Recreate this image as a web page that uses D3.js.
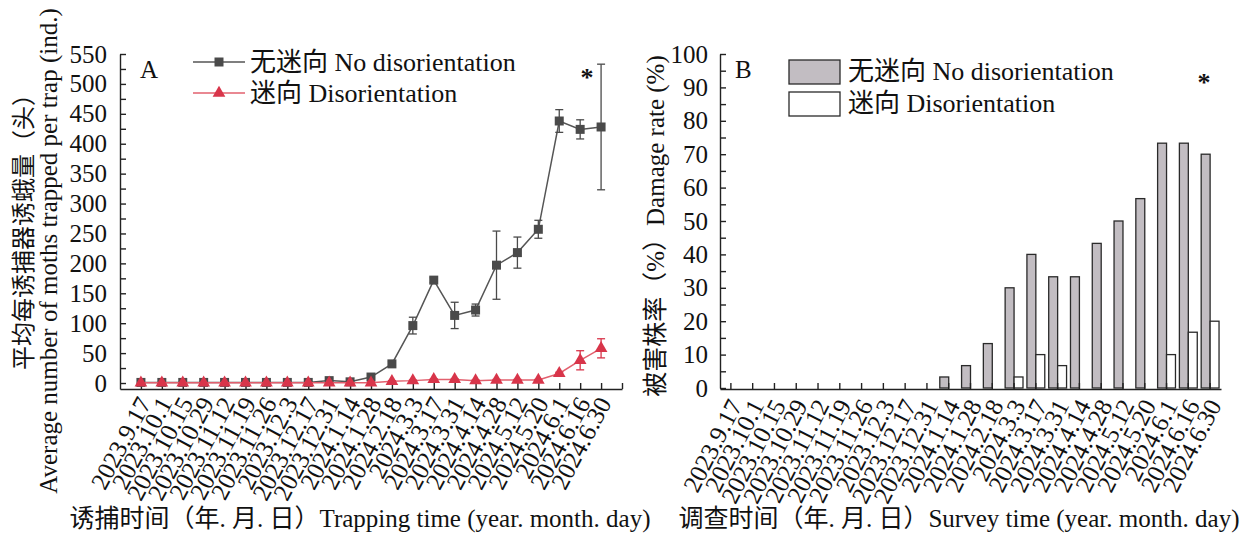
<!DOCTYPE html>
<html lang="zh">
<head>
  <meta charset="UTF-8">
  <title>Trap catch and damage rate</title>
  <script src="https://d3js.org/d3.v7.min.js"></script>
  <style>
    body { margin: 0; background: #fff; }
    svg text { font-family: "Liberation Serif", "Times New Roman", "Noto Sans CJK SC", serif; fill: #111; }
    .axis path, .axis line { stroke: #222; stroke-width: 1.4px; }
    .axis text { font-size: 25px; }
  </style>
</head>
<body>
  <svg id="chart" width="1241" height="538"></svg>
  <script>
    // survey / trapping dates
    const dates = [
      "2023.9.17", "2023.10.1", "2023.10.15", "2023.10.29", "2023.11.12", "2023.11.19",
      "2023.11.26", "2023.12.3", "2023.12.17", "2023.12.31", "2024.1.14", "2024.1.28",
      "2024.2.18", "2024.3.3", "2024.3.17", "2024.3.31", "2024.4.14", "2024.4.28",
      "2024.5.12", "2024.5.20", "2024.6.1", "2024.6.16", "2024.6.30"
    ];

    // A: moths per trap
    const noDisMean = [1, 1, 1, 1, 1, 1, 1, 1, 1, 4, 2, 10, 32, 96, 172, 113, 122, 197, 218, 257, 438, 424, 428];
    const noDisErr  = [0, 0, 0, 0, 0, 0, 0, 0, 0, 4, 1, 3, 4, 14, 4, 22, 10, 57, 26, 15, 19, 16, 105];
    const disMean   = [0.5, 0.5, 0.5, 0.5, 0.5, 0.5, 0.5, 0.5, 0.5, 0.5, 0.5, 0.5, 3, 4, 6, 6, 4, 5, 5, 5, 16, 38, 58];
    const disErr    = [0, 0, 0, 0, 0, 0, 0, 0, 0, 0, 0, 2, 1, 1, 1, 1, 1, 1, 1, 1, 2, 16, 16];

    // B: damage rate (%)
    const damageNoDis = [0, 0, 0, 0, 0, 0, 0, 0, 0, 0, 3.3, 6.7, 13.3, 30, 40, 33.3, 33.3, 43.3, 50, 56.7, 73.3, 73.3, 70];
    const damageDis   = [0, 0, 0, 0, 0, 0, 0, 0, 0, 0, 0, 0, 0, 3.3, 10, 6.7, 0, 0, 0, 0, 10, 16.7, 20];

    const grayLine = "#555", grayMark = "#4a4a4a";
    const redLine = "#e2606e", redMark = "#d8354a";

    const svg = d3.select("#chart");

    // ---------- panel A ----------
    const xA = d3.scaleLinear().domain([0, 24]).range([120, 622]);
    const yA = d3.scaleLinear().domain([-10, 550]).range([389, 54]);

    svg.append("g")
      .attr("class", "axis")
      .attr("transform", "translate(0,389)")
      .call(d3.axisBottom(xA).tickValues(d3.range(1, 25)).tickSizeInner(-6).tickSizeOuter(0).tickFormat(""));

    svg.append("g")
      .attr("class", "axis")
      .attr("transform", "translate(120,0)")
      .call(d3.axisLeft(yA).tickValues(d3.range(0, 551, 25)).tickSizeInner(-6).tickSizeOuter(0).tickPadding(13)
        .tickFormat(d => d % 50 === 0 ? d : ""));

    const seriesA = [
      { mean: noDisMean, err: noDisErr, line: grayLine, mark: grayMark, sym: d3.symbolSquare, size: 81 },
      { mean: disMean, err: disErr, line: redLine, mark: redMark, sym: d3.symbolTriangle, size: 70 }
    ];

    const lineA = d3.line().x((d, i) => xA(i + 1)).y(d => yA(d));

    seriesA.forEach(s => {
      svg.append("path")
        .attr("d", lineA(s.mean))
        .attr("fill", "none")
        .attr("stroke", s.line)
        .attr("stroke-width", 1.5);

      const eb = svg.append("g").attr("stroke", s.mark).attr("stroke-width", 1.3);
      s.mean.forEach((m, i) => {
        if (!s.err[i]) return;
        const x = xA(i + 1);
        eb.append("line").attr("x1", x).attr("x2", x).attr("y1", yA(m - s.err[i])).attr("y2", yA(m + s.err[i]));
        [m - s.err[i], m + s.err[i]].forEach(v => {
          eb.append("line").attr("x1", x - 4).attr("x2", x + 4).attr("y1", yA(v)).attr("y2", yA(v));
        });
      });

      svg.append("g").selectAll("path")
        .data(s.mean)
        .join("path")
        .attr("transform", (d, i) => `translate(${xA(i + 1)},${yA(d)})`)
        .attr("d", d3.symbol(s.sym, s.size))
        .attr("fill", s.mark);
    });

    // legend A
    const legA = [
      { label: "无迷向 No disorientation", s: seriesA[0], y: 62 },
      { label: "迷向 Disorientation", s: seriesA[1], y: 93 }
    ];
    legA.forEach(l => {
      svg.append("line").attr("x1", 193).attr("x2", 245).attr("y1", l.y).attr("y2", l.y)
        .attr("stroke", l.s.line).attr("stroke-width", 1.5);
      svg.append("path").attr("transform", `translate(219,${l.y})`)
        .attr("d", d3.symbol(l.s.sym, l.s.size)).attr("fill", l.s.mark);
      svg.append("text").attr("x", 250).attr("y", l.y + 9).attr("font-size", 26).text(l.label);
    });
    svg.append("text").attr("x", 140).attr("y", 78).attr("font-size", 25).text("A");
    svg.append("text").attr("x", 587).attr("y", 86).attr("text-anchor", "middle")
      .attr("font-size", 26).attr("font-weight", "bold").text("*");

    // x labels A
    svg.append("g").selectAll("text")
      .data(dates)
      .join("text")
      .attr("text-anchor", "end")
      .attr("font-size", 25)
      .attr("transform", (d, i) => `translate(${xA(i + 1) + 11},403) rotate(-62)`)
      .text(d => d);

    svg.append("text")
      .attr("transform", "translate(32,226) rotate(-90)")
      .attr("text-anchor", "middle").attr("font-size", 24)
      .text("平均每诱捕器诱蛾量（头）");
    svg.append("text")
      .attr("transform", "translate(57,251) rotate(-90)")
      .attr("text-anchor", "middle").attr("font-size", 25)
      .text("Average number of moths trapped per trap (ind.)");
    svg.append("text")
      .attr("x", 360).attr("y", 527).attr("text-anchor", "middle").attr("font-size", 25)
      .text("诱捕时间（年. 月. 日）Trapping time (year. month. day)");

    // ---------- panel B ----------
    const xB = d3.scaleBand().domain(dates).range([720, 1221]).padding(0);
    const yB = d3.scaleLinear().domain([0, 100]).range([388, 54]);
    const barW = xB.bandwidth() * 0.41;

    const barsB = [
      { values: damageNoDis, fill: "#c2bdc2", offset: -barW },
      { values: damageDis, fill: "#ffffff", offset: 0 }
    ];
    barsB.forEach(b => {
      svg.append("g").selectAll("rect")
        .data(dates.map((d, i) => ({ d, v: b.values[i] })).filter(o => o.v > 0))
        .join("rect")
        .attr("x", o => xB(o.d) + xB.bandwidth() / 2 + b.offset)
        .attr("y", o => yB(o.v))
        .attr("width", barW)
        .attr("height", o => yB(0) - yB(o.v))
        .attr("fill", b.fill)
        .attr("stroke", "#2a2a2a")
        .attr("stroke-width", 1.3);
    });

    svg.append("g")
      .attr("class", "axis")
      .attr("transform", "translate(0,389)")
      .call(d3.axisBottom(xB).tickSizeInner(-6).tickSizeOuter(0).tickFormat(""));

    svg.append("g")
      .attr("class", "axis")
      .attr("transform", "translate(720,0)")
      .call(d3.axisLeft(yB).tickValues(d3.range(0, 101, 5)).tickSizeInner(-6).tickSizeOuter(0).tickPadding(12)
        .tickFormat(d => d % 10 === 0 ? d : ""));

    // legend B
    const legB = [
      { label: "无迷向 No disorientation", fill: "#c2bdc2", y: 60 },
      { label: "迷向 Disorientation", fill: "#ffffff", y: 92 }
    ];
    legB.forEach(l => {
      svg.append("rect").attr("x", 789).attr("y", l.y).attr("width", 51).attr("height", 24)
        .attr("fill", l.fill).attr("stroke", "#2a2a2a").attr("stroke-width", 1.3);
      svg.append("text").attr("x", 848).attr("y", l.y + 20).attr("font-size", 26).text(l.label);
    });
    svg.append("text").attr("x", 735).attr("y", 78).attr("font-size", 25).text("B");
    svg.append("text").attr("x", 1204).attr("y", 91).attr("text-anchor", "middle")
      .attr("font-size", 26).attr("font-weight", "bold").text("*");

    svg.append("g").selectAll("text")
      .data(dates)
      .join("text")
      .attr("text-anchor", "end")
      .attr("font-size", 25)
      .attr("transform", d => `translate(${xB(d) + xB.bandwidth() / 2 + 12},405) rotate(-63)`)
      .text(d => d);

    svg.append("text")
      .attr("transform", "translate(664,226) rotate(-90)")
      .attr("text-anchor", "middle").attr("font-size", 25)
      .text("被害株率（%）Damage rate (%)");
    svg.append("text")
      .attr("x", 959).attr("y", 527).attr("text-anchor", "middle").attr("font-size", 25)
      .text("调查时间（年. 月. 日）Survey time (year. month. day)");
  </script>
</body>
</html>
